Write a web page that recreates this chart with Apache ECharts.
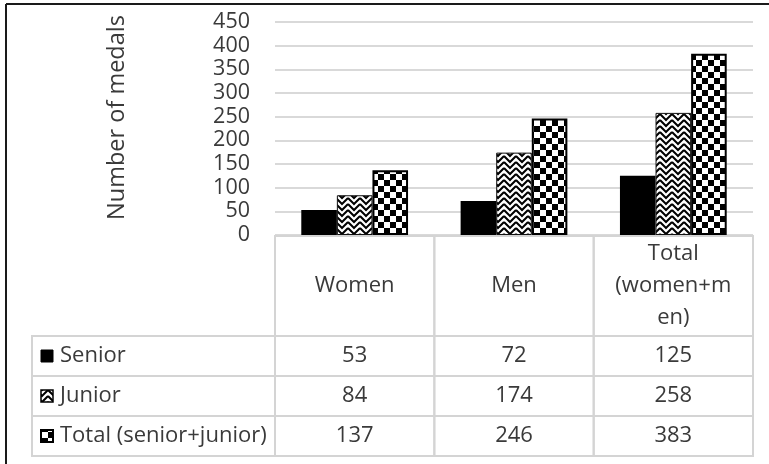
<!DOCTYPE html>
<html>
<head>
<meta charset="utf-8">
<script src="https://cdn.jsdelivr.net/npm/echarts@6/dist/echarts.min.js"></script>
<style>
  html, body { margin: 0; padding: 0; background: #fff; }
  #chart { width: 769px; height: 464px; }
</style>
</head>
<body>
<div id="chart"></div>
<script>
// data
const categories = ['Women', 'Men', 'Total (women+men)'];
const categoryLabels = ['Women', 'Men', 'Total\n(women+m\nen)'];
const seriesNames = ['Senior', 'Junior', 'Total (senior+junior)'];
const seniorValues = [53, 72, 125];
const juniorValues = [84, 174, 258];
const totalValues = [137, 246, 383];
const yTicks = [0, 50, 100, 150, 200, 250, 300, 350, 400, 450];

const FONT = '"Open Sans"';
const TEXT = '#3a3a3a';
const LINE = '#d4d4d4';

// patterns
function checker(size) {
  const c = document.createElement('canvas');
  c.width = c.height = size * 2;
  const g = c.getContext('2d');
  g.fillStyle = '#fff';
  g.fillRect(0, 0, size * 2, size * 2);
  g.fillStyle = '#000';
  g.fillRect(0, 0, size, size);
  g.fillRect(size, size, size, size);
  return c;
}
function zigzag() {
  const n = 12;
  const c = document.createElement('canvas');
  c.width = c.height = n;
  const g = c.getContext('2d');
  g.fillStyle = '#fff';
  g.fillRect(0, 0, n, n);
  g.strokeStyle = '#000';
  g.lineWidth = 2;
  for (let oy = -n; oy <= n; oy += n / 2) {
    g.beginPath();
    g.moveTo(0, oy);
    g.lineTo(n / 2, oy + n / 2);
    g.lineTo(n, oy);
    g.stroke();
  }
  return c;
}
const zigFill = { image: zigzag(), repeat: 'repeat' };
const checkFill = { image: checker(6), repeat: 'repeat' };
const iconFill = { image: checker(6), repeat: 'repeat' };

const seriesValues = [seniorValues, juniorValues, totalValues];
const seriesStyles = [
  { color: '#000' },
  { color: zigFill, borderColor: '#111', borderWidth: 1 },
  { color: checkFill, borderColor: '#000', borderWidth: 2 }
];
const iconStyles = [
  { fill: '#000', stroke: '#000', lineWidth: 1 },
  { fill: zigFill, stroke: '#000', lineWidth: 1.5 },
  { fill: iconFill, stroke: '#000', lineWidth: 2 }
];

// table below the plot, placed from the x axis scale
const headerH = 100;
const rowH = 40;
const labelColW = 243;

function renderRow(params, api) {
  const r = params.dataIndex;
  const band = api.size([1, 0])[0];
  const base = api.coord([0, 0]);
  const left = base[0] - band / 2;
  const top = base[1] + 1;
  const children = [];
  const cellStyle = { fill: 'none', stroke: LINE, lineWidth: 2 };
  const txt = (text, x, y, align) => ({
    type: 'text',
    style: {
      text: text, x: x, y: y, align: align || 'center', verticalAlign: 'middle',
      fontFamily: FONT, fontSize: 22, lineHeight: 32, fill: TEXT
    }
  });
  if (r === 0) {
    categories.forEach((c, i) => {
      const cx = api.coord([i, 0])[0];
      children.push({ type: 'rect', shape: { x: cx - band / 2, y: top, width: band, height: headerH }, style: cellStyle });
      children.push(txt(categoryLabels[i], cx, top + headerH / 2));
    });
  } else {
    const s = r - 1;
    const y = top + headerH + s * rowH;
    const lx = left - labelColW;
    children.push({ type: 'rect', shape: { x: lx, y: y, width: labelColW, height: rowH }, style: cellStyle });
    children.push({ type: 'rect', shape: { x: lx + 9, y: y + rowH / 2 - 6, width: 12, height: 12 }, style: iconStyles[s] });
    children.push(txt(seriesNames[s], lx + 28, y + rowH / 2, 'left'));
    categories.forEach((c, i) => {
      const cx = api.coord([i, 0])[0];
      children.push({ type: 'rect', shape: { x: cx - band / 2, y: y, width: band, height: rowH }, style: cellStyle });
      children.push(txt(String(seriesValues[s][i]), cx, y + rowH / 2));
    });
  }
  return { type: 'group', children: children };
}

const chart = echarts.init(document.getElementById('chart'));
chart.setOption({
  animation: false,
  backgroundColor: '#fff',
  grid: { left: 275, right: 16, top: 22, bottom: 229 },
  xAxis: {
    type: 'category',
    data: categories,
    axisLine: { show: false },
    axisTick: { show: false },
    axisLabel: { show: false },
    splitLine: { show: false }
  },
  yAxis: {
    type: 'value',
    min: yTicks[0],
    max: yTicks[yTicks.length - 1],
    interval: yTicks[1] - yTicks[0],
    name: 'Number of medals',
    nameLocation: 'middle',
    nameGap: 146,
    nameTextStyle: { fontFamily: FONT, fontSize: 23.5, color: TEXT, padding: [0, 0, 0, 22] },
    axisLine: { show: false },
    axisTick: { show: false },
    axisLabel: { fontFamily: FONT, fontSize: 21.5, color: TEXT, margin: 25 },
    splitLine: { lineStyle: { color: '#d9d9d9', width: 2 } }
  },
  series: seriesValues.map((vals, k) => ({
    name: seriesNames[k],
    type: 'bar',
    data: vals,
    barGap: '0%',
    barCategoryGap: '33%',
    itemStyle: seriesStyles[k]
  })).concat([{
    type: 'custom',
    renderItem: renderRow,
    data: [[0, 0], [0, 0], [0, 0], [0, 0]],
    clip: false,
    silent: true,
    z: 5
  }]),
  graphic: [
    { type: 'line', shape: { x1: 6, y1: 4, x2: 769, y2: 4 }, style: { stroke: '#1a1a1a', lineWidth: 2 } },
    { type: 'line', shape: { x1: 6, y1: 4, x2: 6, y2: 464 }, style: { stroke: '#1a1a1a', lineWidth: 2 } }
  ]
});
</script>
</body>
</html>
